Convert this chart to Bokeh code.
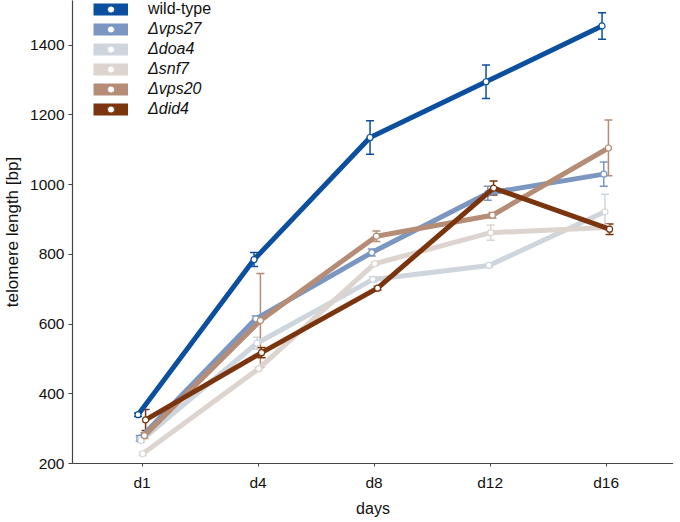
from bokeh.plotting import figure
from bokeh.models import ColumnDataSource, Whisker, TeeHead, Legend, LegendItem, FixedTicker, Range1d
from bokeh.embed import file_html
from bokeh.resources import INLINE

days = ["d1", "d4", "d8", "d12", "d16"]
names = ["wild-type", "\u0394vps27", "\u0394doa4", "\u0394snf7", "\u0394vps20", "\u0394did4"]
colors = ["#0b4f9e", "#7b96c0", "#cfd5dd", "#ddd4cf", "#b58d76", "#7a350f"]

wild_type = [340, 785, 1135, 1295, 1455]
vps27 = [272, 615, 805, 975, 1030]
doa4 = [266, 545, 728, 768, 922]
snf7 = [228, 472, 773, 862, 877]
vps20 = [280, 610, 852, 912, 1105]
did4 = [325, 518, 703, 990, 872]

wild_type_err = [5, 20, 48, 48, 38]
vps27_err = [8, 8, 10, 20, 35]
doa4_err = [5, 17, 8, 5, 50]
snf7_err = [5, 5, 5, 22, 5]
vps20_err = [8, 135, 15, 8, 80]
did4_err = [30, 15, 5, 20, 15]

values = [wild_type, vps27, doa4, snf7, vps20, did4]
errors = [wild_type_err, vps27_err, doa4_err, snf7_err, vps20_err, did4_err]
offsets = [-0.035, -0.02, -0.01, 0.005, 0.02, 0.03]

FONT = "Liberation Sans"

p = figure(width=672, height=514, output_backend="svg", toolbar_location=None,
           x_range=Range1d(-0.60, 4.581), y_range=Range1d(200, 1528),
           min_border_left=71, min_border_right=0, min_border_top=0, min_border_bottom=51)
p.frame_width = 601
p.frame_height = 463
p.outline_line_color = None
p.grid.grid_line_color = None

p.xaxis.ticker = FixedTicker(ticks=list(range(len(days))))
p.xaxis.major_label_overrides = {i: d for i, d in enumerate(days)}
p.yaxis.ticker = FixedTicker(ticks=[200, 400, 600, 800, 1000, 1200, 1400])
p.xaxis.axis_label = "days"
p.yaxis.axis_label = "telomere length [bp]"
for ax in (p.xaxis, p.yaxis):
    ax.axis_line_color = "#444444"
    ax.axis_line_width = 1.2
    ax.major_tick_line_color = "#444444"
    ax.minor_tick_line_color = None
    ax.major_tick_in = 0
    ax.major_label_text_font = FONT
    ax.major_label_text_font_size = "15.5px"
    ax.major_label_text_color = "#111111"
    ax.axis_label_text_font = FONT
    ax.axis_label_text_font_size = "16px"
    ax.axis_label_text_font_style = "normal"
    ax.axis_label_text_color = "#111111"
p.xaxis.major_tick_out = 3
p.yaxis.major_tick_out = 4
p.xaxis.major_label_standoff = 7
p.xaxis.axis_label_standoff = 6
p.yaxis.major_label_standoff = 4
p.yaxis.axis_label_standoff = 5
p.yaxis.axis_label_text_font_size = "17px"

nan = float("nan")
items_wt = []
items_mut = []
for i, (name, col, vals, errs, off) in enumerate(zip(names, colors, values, errors, offsets)):
    xs = [k + off for k in range(len(days))]
    src = ColumnDataSource(dict(x=xs, y=vals,
                                upper=[v + e for v, e in zip(vals, errs)],
                                lower=[v - e for v, e in zip(vals, errs)]))
    w = Whisker(source=src, base="x", upper="upper", lower="lower",
                line_color=col, line_width=1.5,
                upper_head=TeeHead(size=8, line_color=col, line_width=1.5),
                lower_head=TeeHead(size=8, line_color=col, line_width=1.5))
    p.add_layout(w)
    p.line("x", "y", source=src, line_color=col, line_width=5)
    p.scatter("x", "y", source=src, size=6, fill_color="white", line_color=col, line_width=1.2)
    # legend proxies (no visible data)
    proxy = ColumnDataSource(dict(x=[nan], y=[nan]))
    lr = p.line("x", "y", source=proxy, line_color=col, line_width=12, line_cap="butt")
    sr = p.scatter("x", "y", source=proxy, size=10, fill_color="white", line_color=col, line_width=1)
    item = LegendItem(label=name, renderers=[lr, sr])
    (items_wt if i == 0 else items_mut).append(item)

for items, style, loc in ((items_wt, "normal", (21, 445)), (items_mut, "italic", (21, 345))):
    lg = Legend(items=items, location=loc, orientation="vertical",
                glyph_width=35, glyph_height=18, label_height=14, spacing=2,
                padding=0, margin=0, border_line_color=None, background_fill_alpha=0,
                label_text_font=FONT, label_text_font_size="16px",
                label_text_font_style=style, label_text_color="#111111",
                label_standoff=20)
    p.add_layout(lg)

open("out.html", "w").write(file_html(p, INLINE))
